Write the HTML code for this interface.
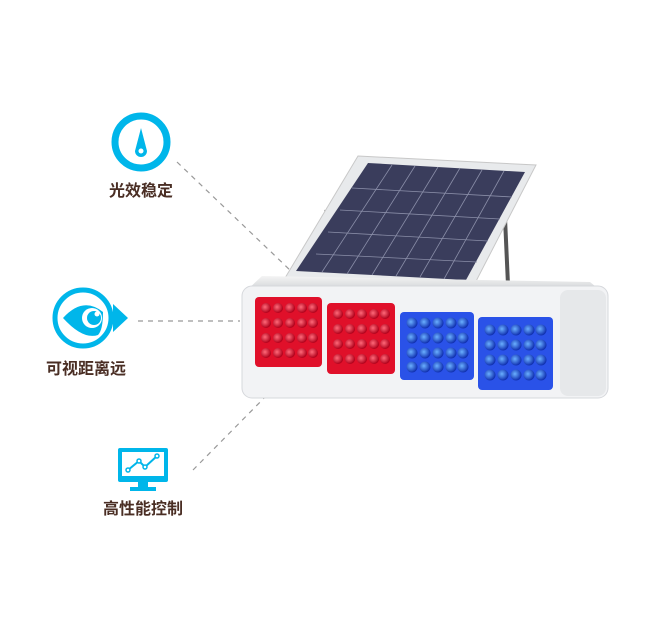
<!DOCTYPE html>
<html><head><meta charset="utf-8"><style>
html,body{margin:0;padding:0;background:#fff;}
svg{display:block}
text{font-family:"Liberation Sans","Noto Sans CJK SC",sans-serif;fill:#4a2e24;font-size:16px;font-weight:bold;}
</style></head><body>
<svg width="650" height="630" viewBox="0 0 650 630" xmlns="http://www.w3.org/2000/svg">
<defs>
<radialGradient id="led" cx="0.4" cy="0.4" r="0.6"><stop offset="0" stop-color="#ff6a7a"/><stop offset="1" stop-color="#b0001a"/></radialGradient>
<radialGradient id="bled" cx="0.4" cy="0.4" r="0.6"><stop offset="0" stop-color="#6ab0ff"/><stop offset="1" stop-color="#1030b0"/></radialGradient>
<linearGradient id="alu" x1="0" y1="0" x2="0" y2="1"><stop offset="0" stop-color="#f4f4f4"/><stop offset="1" stop-color="#c4c8cc"/></linearGradient>
</defs>
<g stroke="#999" stroke-width="1.2" stroke-dasharray="5,5" fill="none">
<line x1="177" y1="162" x2="292" y2="272"/>
<line x1="138" y1="321" x2="240" y2="321"/>
<line x1="193" y1="470" x2="272" y2="390"/>
</g>
<circle cx="141" cy="142" r="26" fill="none" stroke="#00b6ea" stroke-width="7"/>
<path d="M141 128 L147 151 A6 6 0 1 1 135 151 Z" fill="#00b6ea"/>
<circle cx="141" cy="151" r="2.5" fill="#fff"/>
<text x="141" y="196" text-anchor="middle">光效稳定</text>
<circle cx="83" cy="318" r="28" fill="none" stroke="#00b6ea" stroke-width="5"/>
<path d="M113 304 L128 318 L113 332 Z" fill="#00b6ea"/>
<path d="M63 318 Q83 296 103 312 Q103 330 98 335 Q83 340 63 318 Z" fill="#00b6ea"/>
<circle cx="92" cy="318" r="10" fill="#fff"/>
<circle cx="94" cy="318" r="7" fill="#00b6ea"/>
<circle cx="97" cy="314" r="2.5" fill="#fff"/>
<text x="86" y="374" text-anchor="middle">可视距离远</text>
<rect x="118" y="448" width="50" height="34" rx="2" fill="#00b6ea"/>
<rect x="122" y="452" width="42" height="24" fill="#fff"/>
<polyline points="128,470 139,461 145,467 157,456" fill="none" stroke="#00b6ea" stroke-width="2"/>
<g fill="#fff" stroke="#00b6ea" stroke-width="1.5"><circle cx="128" cy="470" r="2"/><circle cx="139" cy="461" r="2"/><circle cx="145" cy="467" r="2"/><circle cx="157" cy="456" r="2"/></g>
<rect x="138" y="482" width="10" height="5" fill="#00b6ea"/>
<rect x="130" y="487" width="26" height="4" fill="#00b6ea"/>
<text x="143" y="514" text-anchor="middle">高性能控制</text>
<line x1="326" y1="210" x2="322" y2="282" stroke="#555" stroke-width="3"/>
<path d="M505 218 L508 285 L490 288" fill="none" stroke="#555" stroke-width="4"/>
<polygon points="358,156 536,165 472,289 285,278" fill="#e8eaec" stroke="#c8c8c8"/>
<polygon points="368,163 525,172 466,280 296,271" fill="#3a3d5c"/>
<g stroke="#8a8ea8" stroke-width="0.8">
<line x1="352" y1="188" x2="512" y2="197"/><line x1="340" y1="210" x2="500" y2="219"/><line x1="328" y1="232" x2="488" y2="241"/><line x1="316" y1="254" x2="477" y2="262"/>
<line x1="392" y1="165" x2="322" y2="272"/><line x1="415" y1="166" x2="347" y2="274"/><line x1="438" y1="167" x2="372" y2="275"/><line x1="460" y1="168" x2="396" y2="276"/><line x1="482" y1="170" x2="420" y2="277"/><line x1="504" y1="171" x2="444" y2="279"/>
</g>
<polygon points="262,276 590,282 606,295 245,292" fill="url(#alu)"/>
<rect x="242" y="286" width="366" height="112" rx="10" fill="#f2f3f5" stroke="#d6d8dc"/>
<rect x="560" y="290" width="46" height="106" rx="8" fill="#e6e8ea"/>
<rect x="255" y="297" width="67" height="70" rx="4" fill="#e0102a"/>
<rect x="327" y="303" width="68" height="71" rx="4" fill="#e0102a"/>
<rect x="400" y="312" width="74" height="68" rx="4" fill="#2a52e8"/>
<rect x="478" y="317" width="75" height="73" rx="4" fill="#2a52e8"/>
<g fill="url(#led)">
<circle cx="266" cy="308" r="5"/><circle cx="278" cy="308" r="5"/><circle cx="290" cy="308" r="5"/><circle cx="302" cy="308" r="5"/><circle cx="313" cy="308" r="5"/>
<circle cx="266" cy="323" r="5"/><circle cx="278" cy="323" r="5"/><circle cx="290" cy="323" r="5"/><circle cx="302" cy="323" r="5"/><circle cx="313" cy="323" r="5"/>
<circle cx="266" cy="338" r="5"/><circle cx="278" cy="338" r="5"/><circle cx="290" cy="338" r="5"/><circle cx="302" cy="338" r="5"/><circle cx="313" cy="338" r="5"/>
<circle cx="266" cy="353" r="5"/><circle cx="278" cy="353" r="5"/><circle cx="290" cy="353" r="5"/><circle cx="302" cy="353" r="5"/><circle cx="313" cy="353" r="5"/>
<circle cx="338" cy="314" r="5"/><circle cx="350" cy="314" r="5"/><circle cx="362" cy="314" r="5"/><circle cx="374" cy="314" r="5"/><circle cx="385" cy="314" r="5"/>
<circle cx="338" cy="329" r="5"/><circle cx="350" cy="329" r="5"/><circle cx="362" cy="329" r="5"/><circle cx="374" cy="329" r="5"/><circle cx="385" cy="329" r="5"/>
<circle cx="338" cy="344" r="5"/><circle cx="350" cy="344" r="5"/><circle cx="362" cy="344" r="5"/><circle cx="374" cy="344" r="5"/><circle cx="385" cy="344" r="5"/>
<circle cx="338" cy="359" r="5"/><circle cx="350" cy="359" r="5"/><circle cx="362" cy="359" r="5"/><circle cx="374" cy="359" r="5"/><circle cx="385" cy="359" r="5"/>
</g>
<g fill="url(#bled)">
<circle cx="412" cy="323" r="5.5"/><circle cx="425" cy="323" r="5.5"/><circle cx="438" cy="323" r="5.5"/><circle cx="451" cy="323" r="5.5"/><circle cx="463" cy="323" r="5.5"/>
<circle cx="412" cy="338" r="5.5"/><circle cx="425" cy="338" r="5.5"/><circle cx="438" cy="338" r="5.5"/><circle cx="451" cy="338" r="5.5"/><circle cx="463" cy="338" r="5.5"/>
<circle cx="412" cy="353" r="5.5"/><circle cx="425" cy="353" r="5.5"/><circle cx="438" cy="353" r="5.5"/><circle cx="451" cy="353" r="5.5"/><circle cx="463" cy="353" r="5.5"/>
<circle cx="412" cy="367" r="5.5"/><circle cx="425" cy="367" r="5.5"/><circle cx="438" cy="367" r="5.5"/><circle cx="451" cy="367" r="5.5"/><circle cx="463" cy="367" r="5.5"/>
<circle cx="490" cy="330" r="5.5"/><circle cx="503" cy="330" r="5.5"/><circle cx="516" cy="330" r="5.5"/><circle cx="529" cy="330" r="5.5"/><circle cx="541" cy="330" r="5.5"/>
<circle cx="490" cy="345" r="5.5"/><circle cx="503" cy="345" r="5.5"/><circle cx="516" cy="345" r="5.5"/><circle cx="529" cy="345" r="5.5"/><circle cx="541" cy="345" r="5.5"/>
<circle cx="490" cy="360" r="5.5"/><circle cx="503" cy="360" r="5.5"/><circle cx="516" cy="360" r="5.5"/><circle cx="529" cy="360" r="5.5"/><circle cx="541" cy="360" r="5.5"/>
<circle cx="490" cy="375" r="5.5"/><circle cx="503" cy="375" r="5.5"/><circle cx="516" cy="375" r="5.5"/><circle cx="529" cy="375" r="5.5"/><circle cx="541" cy="375" r="5.5"/>
</g>
</svg>
</body></html>
